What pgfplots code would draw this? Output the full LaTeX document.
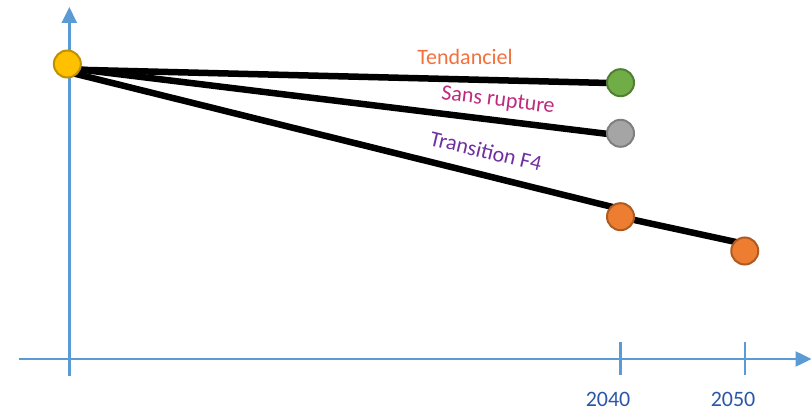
\documentclass[border=0pt]{standalone}
\usepackage{fontspec}
\setmainfont{Carlito}
\usepackage{pgfplots}
\pgfplotsset{compat=1.18}
\usetikzlibrary{arrows.meta}
\definecolor{axblue}{HTML}{5B9BD5}
\definecolor{ticklab}{HTML}{2B57A6}
\definecolor{tendc}{HTML}{F2703C}
\definecolor{sansc}{HTML}{BE2A7E}
\definecolor{transc}{HTML}{7030A0}
\definecolor{yelf}{HTML}{FFC000}
\definecolor{yeld}{HTML}{BF9000}
\definecolor{grnf}{HTML}{70AD47}
\definecolor{grnd}{HTML}{507E32}
\definecolor{gryf}{HTML}{A5A5A5}
\definecolor{gryd}{HTML}{7F7F7F}
\definecolor{orf}{HTML}{ED7D31}
\definecolor{ord}{HTML}{AE5A21}
\begin{document}
\begin{tikzpicture}[x=1pt,y=1pt]
\useasboundingbox (0,0) rectangle (812,410);
\begin{axis}[at={(0,0)}, anchor=south west, scale only axis,
  width=812pt, height=410pt,
  xmin=1990.16, xmax=2055.38, ymin=-51, ymax=359,
  hide axis, clip=false]
% axes
\draw[axblue, line width=2.5pt, -{Triangle[width=15pt,length=16pt]}]
  (axis cs:1995.73,-17) -- (axis cs:1995.73,352);
\draw[axblue, line width=2.5pt, -{Triangle[width=15pt,length=16pt]}]
  (axis cs:1991.69,0) -- (axis cs:2055.34,0);
\draw[axblue, line width=2.5pt] (axis cs:2040,-16) -- (axis cs:2040,17);
\draw[axblue, line width=2.5pt] (axis cs:2050,-16) -- (axis cs:2050,17);
\node[text=ticklab, inner sep=0, font=\fontsize{22}{26}\selectfont] at (axis cs:2039.0,-40) {2040};
\node[text=ticklab, inner sep=0, font=\fontsize{22}{26}\selectfont] at (axis cs:2049.04,-40) {2050};
% start marker
\addplot[only marks, mark=*, mark size=13.5pt, mark options={fill=yelf, draw=yeld, line width=2pt}]
  coordinates {(1995.57,295)};
% lines
\addplot[black, line width=6.5pt] coordinates {(1995.62,289.5) (2040,275.7)};
\addplot[black, line width=6.5pt] coordinates {(1995.62,291) (2040,223.5)};
\addplot[black, line width=6.5pt] coordinates {(1995.62,287) (2040,150) (2040,142) (2050,115)};
% end markers
\addplot[only marks, mark=*, mark size=13.5pt, mark options={fill=grnf, draw=grnd, line width=2pt}]
  coordinates {(2040,276.3)};
\addplot[only marks, mark=*, mark size=13.5pt, mark options={fill=gryf, draw=gryd, line width=2pt}]
  coordinates {(2040,225.7)};
\addplot[only marks, mark=*, mark size=13.5pt, mark options={fill=orf, draw=ord, line width=2pt}]
  coordinates {(2040,142.3) (2049.98,108)};
% labels
\node[text=tendc, inner sep=0, font=\fontsize{22}{26}\selectfont] at (axis cs:2027.51,302) {Tendanciel};
\node[text=sansc, inner sep=0, rotate=-7, font=\fontsize{22}{26}\selectfont] at (axis cs:2030.16,258) {Sans rupture};
\node[text=transc, inner sep=0, rotate=-13.5, font=\fontsize{22}{26}\selectfont] at (axis cs:2029.2,208) {Transition F4};
\end{axis}
\end{tikzpicture}
\end{document}
